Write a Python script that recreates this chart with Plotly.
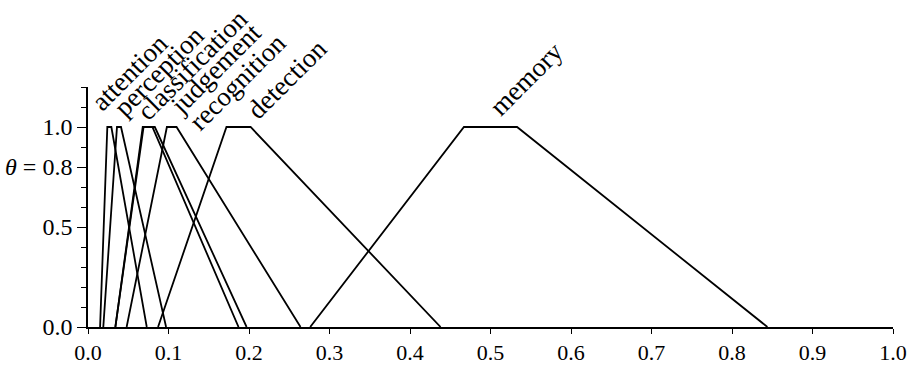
import plotly.graph_objects as go

# Trapezoidal membership functions: (left foot, left shoulder, right shoulder, right foot)
names = ["attention", "perception", "classification", "judgement",
         "recognition", "detection", "memory"]
left_foot = [0.015, 0.019, 0.034, 0.034, 0.048, 0.087, 0.276]
left_shoulder = [0.024, 0.036, 0.068, 0.069, 0.098, 0.172, 0.467]
right_shoulder = [0.029, 0.041, 0.080, 0.083, 0.110, 0.202, 0.533]
right_foot = [0.073, 0.097, 0.187, 0.197, 0.264, 0.438, 0.844]

# Where each rotated name starts (data coordinates)
label_x = [0.001, 0.022, 0.050, 0.091, 0.115, 0.187, 0.488]
label_y = [1.04, 1.01, 0.99, 1.02, 0.94, 1.0, 1.015]

x_ticks = [0.0, 0.1, 0.2, 0.3, 0.4, 0.5, 0.6, 0.7, 0.8, 0.9, 1.0]
x_tick_text = ["0.0", "0.1", "0.2", "0.3", "0.4", "0.5", "0.6", "0.7", "0.8", "0.9", "1.0"]
y_ticks = [0.0, 0.5, 0.8, 1.0]
y_tick_text = ["0.0", "0.5", "<i>θ</i> = 0.8", "1.0"]

SERIF = "Times New Roman, Liberation Serif, serif"

fig = go.Figure()
for i, name in enumerate(names):
    fig.add_trace(go.Scatter(
        x=[left_foot[i], left_shoulder[i], right_shoulder[i], right_foot[i]],
        y=[0, 1, 1, 0],
        mode="lines",
        line=dict(color="black", width=1.8),
        name=name,
        showlegend=False,
        hoverinfo="skip",
    ))

for i, name in enumerate(names):
    fig.add_annotation(
        x=label_x[i], y=label_y[i], xref="x", yref="y",
        text=name, showarrow=False, textangle=-45,
        xanchor="left", yanchor="bottom",
        xshift=-6 if i == 0 else 0,
        font=dict(family=SERIF, size=27, color="black"),
    )

fig.update_layout(
    width=912, height=367,
    margin=dict(l=88, r=19, t=87, b=40, autoexpand=False),
    paper_bgcolor="white", plot_bgcolor="white",
    font=dict(family=SERIF, color="black"),
)
fig.update_xaxes(
    range=[0, 1.0], tickvals=x_ticks, ticktext=x_tick_text,
    showgrid=False, zeroline=False, automargin=False,
    showline=True, linecolor="black", linewidth=1.6,
    ticks="outside", ticklen=5, tickwidth=1.2, tickcolor="black",
    tickfont=dict(family=SERIF, size=22, color="black"),
)
fig.update_yaxes(
    range=[0, 1.2], tickvals=y_ticks, ticktext=y_tick_text,
    showgrid=False, zeroline=False, automargin=False,
    showline=True, linecolor="black", linewidth=1.6,
    ticks="outside", ticklen=9, tickwidth=1.2, tickcolor="black",
    ticklabelstandoff=0,
    tickfont=dict(family=SERIF, size=24, color="black"),
    minor=dict(dtick=0.1, tick0=0, ticks="outside", ticklen=5,
               tickwidth=1.2, tickcolor="black", showgrid=False),
)

fig.write_html("out.html")
